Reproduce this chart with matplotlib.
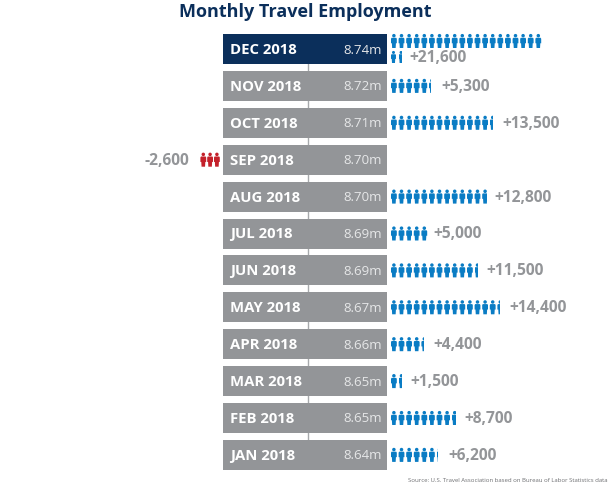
import numpy as np
from matplotlib import pyplot as plt
from matplotlib.patches import Circle, Polygon, Rectangle

plt.rcParams['font.family'] = ['Open Sans', 'DejaVu Sans']

# Chart data, newest month first
MONTHS = ['DEC 2018', 'NOV 2018', 'OCT 2018', 'SEP 2018', 'AUG 2018', 'JUL 2018',
          'JUN 2018', 'MAY 2018', 'APR 2018', 'MAR 2018', 'FEB 2018', 'JAN 2018']
LEVELS = ['8.74m', '8.72m', '8.71m', '8.70m', '8.70m', '8.69m',
          '8.69m', '8.67m', '8.66m', '8.65m', '8.65m', '8.64m']
CHANGES = [21600, 5300, 13500, -2600, 12800, 5000, 11500, 14400, 4400, 1500, 8700, 6200]

TITLE = 'Monthly Travel Employment'
SOURCE = 'Source: U.S. Travel Association based on Bureau of Labor Statistics data'

# Colors
NAVY = '#0b2f5b'
GREY = '#939598'
BLUE = '#0a7cc4'
RED = '#c4212b'

# Layout in picture pixels
ROW_TOP = 50
ROW_STEP = 36.9
BAR_LEFT = 223
BAR_WIDTH = 164
BAR_HEIGHT = 30
ICON_LEFT = 391
ICON_STEP = 7.6
ICONS_PER_ROW = 20


# One person, cut off at frac of its width
def draw_person(ax, x, y, height, color, frac=1.0):
    w = 5.8 * height / 14
    h = height
    head = Circle((x + w / 2, y + h * 0.12), h * 0.125, fc=color, ec='none')
    body = Polygon([(x + w * 0.1, y + h * 0.27), (x + w * 0.9, y + h * 0.27),
                    (x + w, y + h * 0.34), (x + w, y + h * 0.66),
                    (x + w * 0.85, y + h * 0.66), (x + w * 0.8, y + h),
                    (x + w * 0.2, y + h), (x + w * 0.15, y + h * 0.66),
                    (x, y + h * 0.66), (x, y + h * 0.34)], closed=True, fc=color, ec='none')
    for part in (head, body):
        ax.add_patch(part)
        if frac < 1.0:
            part.set_clip_path(Rectangle((x, y - 1), w * frac, h + 2, transform=ax.transData))


def main():
    fig = plt.figure(figsize=(6.1, 4.85), dpi=100)
    ax = fig.add_axes([0, 0, 1, 1])
    ax.set_xlim(0, 610)
    ax.set_ylim(485, 0)
    ax.axis('off')

    rows = ROW_TOP + ROW_STEP * np.arange(len(MONTHS))

    ax.text(305.5, 12, TITLE, ha='center', va='center', fontsize=13, fontweight='bold', color=NAVY)

    # Connector behind the bars
    ax.plot([BAR_LEFT + 85, BAR_LEFT + 85], [rows[0], rows[-1]], color='#a7a9ac', lw=1, zorder=1)

    colors = [NAVY] + [GREY] * (len(MONTHS) - 1)
    ax.barh(rows, BAR_WIDTH, height=BAR_HEIGHT, left=BAR_LEFT, color=colors, zorder=2)

    for i, y in enumerate(rows):
        ax.text(BAR_LEFT + 7, y, MONTHS[i], ha='left', va='center', fontsize=10.7,
                fontweight='bold', color='white', zorder=3)
        ax.text(BAR_LEFT + BAR_WIDTH - 5, y, LEVELS[i], ha='right', va='center', fontsize=9.5,
                color='#e6e7e8', zorder=3)

        change = CHANGES[i]
        count = abs(change) / 1000
        label = '{:+,}'.format(change)

        if change < 0:
            # Losses go to the left of the bar
            for k in range(int(np.ceil(count))):
                draw_person(ax, 214 - k * 6.8, y - 7, 14, RED)
            ax.text(189, y, label, ha='right', va='center', fontsize=11.2,
                    fontweight='bold', color=GREY)
            continue

        if count > ICONS_PER_ROW:
            # Long row wraps onto a second, smaller line
            for k in range(ICONS_PER_ROW):
                draw_person(ax, ICON_LEFT + k * ICON_STEP, y - 15, 14, BLUE)
            left = count - ICONS_PER_ROW
            for k in range(int(np.ceil(left))):
                draw_person(ax, ICON_LEFT + k * ICON_STEP, y + 2, 12, BLUE, min(1.0, left - k))
            ax.text(409, y + 8.5, label, ha='left', va='center', fontsize=11.2,
                    fontweight='bold', color=GREY)
            continue

        for k in range(int(np.ceil(count))):
            draw_person(ax, ICON_LEFT + k * ICON_STEP, y - 7, 14, BLUE, min(1.0, count - k))
        ax.text(ICON_LEFT + np.ceil(count) * ICON_STEP + 4.5, y, label, ha='left', va='center',
                fontsize=11.2, fontweight='bold', color=GREY)

    ax.text(608, 481, SOURCE, ha='right', va='center', fontsize=4.3, color='#6d6e71')

    fig.savefig('out.png', dpi=100)


if __name__ == '__main__':
    main()
